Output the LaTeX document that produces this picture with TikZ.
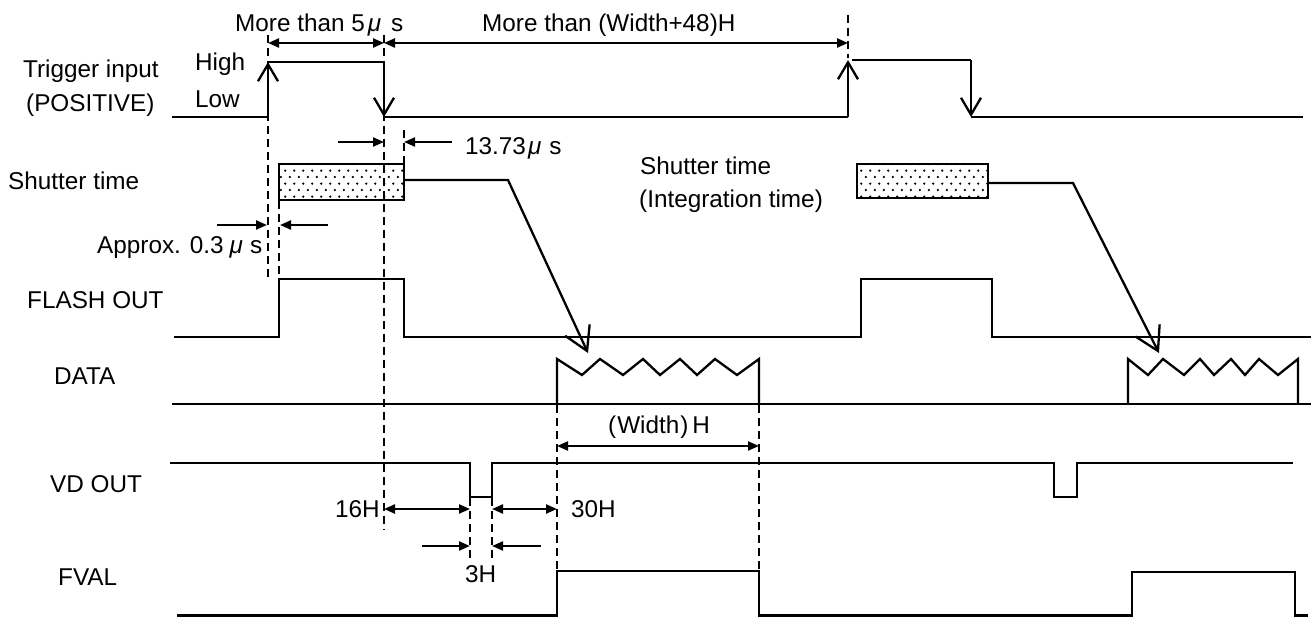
\documentclass[tikz,border=0pt]{standalone}
\usepackage{fontspec}
\setmainfont{Liberation Sans}
\usetikzlibrary{arrows.meta,patterns}
\pgfdeclarepatternformonly{shdots}{\pgfpointorigin}{\pgfpoint{9.3pt}{13.3pt}}{\pgfpoint{9.3pt}{13.3pt}}{%
  \pgfpathcircle{\pgfpoint{2pt}{2pt}}{1.35pt}%
  \pgfpathcircle{\pgfpoint{6.65pt}{8.65pt}}{1.35pt}%
  \pgfusepath{fill}}
\newcommand{\umu}{{\itshape μ}}
\tikzset{
  dt/.tip={Triangle[length=11pt,width=9pt]},
  vb/.tip={Straight Barb[length=17pt,width=20pt]},
  bb/.tip={Straight Barb[length=23pt,width=27pt]},
}
\begin{document}
\begin{tikzpicture}[x=1pt,y=-1pt,
  sig/.style={line width=2.3pt, line join=miter},
  guide/.style={line width=2pt, dash pattern=on 8pt off 5pt},
  dimline/.style={line width=2.2pt},
  lbl/.style={font=\fontsize{24.3}{28}\selectfont, inner sep=0pt, anchor=base west},
  shbox/.style={line width=2.3pt, pattern=shdots, pattern color=black},
]
\useasboundingbox[fill=white] (0,0) rectangle (1312,617);

% ---------- labels ----------
\node[lbl] (trg) at (23,78) {Trigger input};
\node[lbl] (pos) at (26,112) {(POSITIVE)};
\node[lbl] (hi) at (195,71) {High};
\node[lbl] (lo) at (195,108) {Low};
\node[lbl] (sh1) at (8,190) {Shutter time};
\node[lbl] (apx) at (97,254) {Approx. 0.3\kern6pt\umu\kern7pt s};
\node[lbl] (fl) at (27,309) {FLASH OUT};
\node[lbl] (dta) at (54,385) {DATA};
\node[lbl] (vd) at (50,492) {VD OUT};
\node[lbl] (fv) at (58,585) {FVAL};
\node[lbl] (t5) at (235,32) {More than 5\kern3pt\umu\kern10pt s};
\node[lbl] (tw) at (482,32) {More than (Width+48)H};
\node[lbl] (t13) at (465,155) {13.73\kern2pt\umu\kern8pt s};
\node[lbl] (sh2) at (640,175) {Shutter time};
\node[lbl] (int) at (639,208) {(Integration time)};
\node[lbl] (wd) at (608,433) {(\kern1pt Width\kern1pt)\kern4pt H};
\node[lbl] (h16) at (335,517) {16H};
\node[lbl] (h30) at (571,517) {30H};
\node[lbl] (h3) at (465,582) {3H};

% ---------- guide (dashed) lines ----------
\draw[guide] (268,35) -- (268,281);
\draw[guide] (384,35) -- (384,530);
\draw[guide] (279,201) -- (279,279);
\draw[guide] (404,130) -- (404,164);
\draw[guide] (848,15) -- (848,58);
\draw[guide] (557,405) -- (557,571);
\draw[guide] (759,405) -- (759,571);
\draw[guide] (470,498) -- (470,562);
\draw[guide] (492,498) -- (492,562);

% ---------- dimension arrows ----------
\draw[dimline, dt-dt] (268,43) -- (384,43);
\draw[dimline, dt-dt] (384,43) -- (848,43);
\draw[dimline, -dt] (338,142) -- (384,142);
\draw[dimline, -dt] (452,142) -- (404,142);
\draw[dimline, -dt] (217,225) -- (267,225);
\draw[dimline, -dt] (328,225) -- (280,225);
\draw[dimline, dt-dt] (557,446) -- (759,446);
\draw[dimline, dt-dt] (384,509) -- (470,509);
\draw[dimline, dt-dt] (492,509) -- (557,509);
\draw[dimline, -dt] (422,546) -- (470,546);
\draw[dimline, -dt] (541,546) -- (492,546);

% ---------- trigger input ----------
\draw[sig] (172,117) -- (268,117);
\draw[sig, -vb] (268,117) -- (268,62);
\draw[sig] (268,62) -- (384,62);
\draw[sig, -vb] (384,62) -- (384,117);
\draw[sig] (384,117) -- (848,117);
\draw[sig, -vb] (848,117) -- (848,60);
\draw[sig] (852,60) -- (971,60);
\draw[sig, -vb] (971,60) -- (971,117);
\draw[sig] (971,117) -- (1303,117);

% ---------- shutter boxes and transfer arrows ----------
\draw[shbox] (279,164) rectangle (404,200);
\draw[shbox] (857,164) rectangle (988,198);
\draw[sig, -bb] (404,180) -- (508,180) -- (588,353);
\draw[sig, -bb] (988,183) -- (1073,183) -- (1159,353);

% ---------- FLASH OUT ----------
\draw[sig] (174,337) -- (279,337) -- (279,279) -- (404,279) -- (404,337)
  -- (861,337) -- (861,279) -- (992,279) -- (992,337) -- (1311,337);

% ---------- DATA ----------
\draw[sig] (172,404) -- (1311,404);
\draw[sig] (557,404) -- (557,359) -- (582,375) -- (600,359) -- (623,375) -- (643,359)
  -- (660,375) -- (680,359) -- (697,375) -- (715,359) -- (737,375) -- (759,359) -- (759,404);
\draw[sig] (1128,404) -- (1128,359) -- (1148,375) -- (1163,359) -- (1184,375) -- (1200,359)
  -- (1214,375) -- (1231,359) -- (1245,375) -- (1259,359) -- (1278,375) -- (1298,359) -- (1298,404);

% ---------- VD OUT ----------
\draw[sig] (170,463) -- (470,463) -- (470,497) -- (492,497) -- (492,463)
  -- (1054,463) -- (1054,497) -- (1077,497) -- (1077,463) -- (1293,463);

% ---------- FVAL ----------
\draw[sig] (177,615.5) -- (557,615.5) -- (557,571) -- (759,571) -- (759,615.5)
  -- (1132,615.5) -- (1132,572) -- (1295,572) -- (1295,615.5) -- (1308,615.5);
\end{tikzpicture}
\end{document}
